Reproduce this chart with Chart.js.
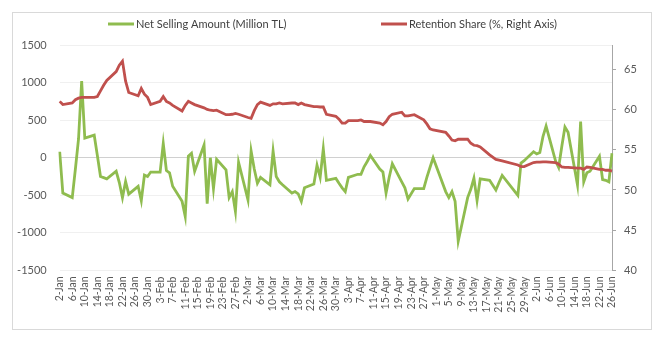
<!DOCTYPE html>
<html><head><meta charset="utf-8">
<script src="https://cdn.jsdelivr.net/npm/chart.js@4/dist/chart.umd.min.js"></script>
<style>html,body{margin:0;padding:0;background:#fff}#wrap{position:relative;width:665px;height:343px}</style>
</head><body><div id="wrap"><canvas id="c" width="665" height="343"></canvas></div>
<script>
const MONTHS = ['Jan','Feb','Mar','Apr','May','Jun'];

// Trading days shown in the chart (2020)
const tradeDates = ['2-Jan','3-Jan','6-Jan','7-Jan','8-Jan','9-Jan','10-Jan','13-Jan','14-Jan','15-Jan','16-Jan','17-Jan','20-Jan','21-Jan','22-Jan','23-Jan','24-Jan','27-Jan','28-Jan','29-Jan','30-Jan','31-Jan',
'3-Feb','4-Feb','5-Feb','6-Feb','7-Feb','10-Feb','11-Feb','12-Feb','13-Feb','14-Feb','17-Feb','18-Feb','19-Feb','20-Feb','21-Feb','24-Feb','25-Feb','26-Feb','27-Feb','28-Feb',
'2-Mar','3-Mar','4-Mar','5-Mar','6-Mar','9-Mar','10-Mar','11-Mar','12-Mar','13-Mar','16-Mar','17-Mar','18-Mar','19-Mar','20-Mar','23-Mar','24-Mar','25-Mar','26-Mar','27-Mar','30-Mar','31-Mar',
'1-Apr','2-Apr','3-Apr','6-Apr','7-Apr','8-Apr','9-Apr','10-Apr','13-Apr','14-Apr','15-Apr','16-Apr','17-Apr','20-Apr','21-Apr','22-Apr','24-Apr','27-Apr','28-Apr','29-Apr','30-Apr',
'4-May','5-May','6-May','7-May','8-May','11-May','12-May','13-May','14-May','15-May','18-May','20-May','21-May','22-May','27-May','28-May','29-May',
'1-Jun','2-Jun','3-Jun','4-Jun','5-Jun','8-Jun','9-Jun','10-Jun','11-Jun','12-Jun','15-Jun','16-Jun','17-Jun','18-Jun','19-Jun','22-Jun','23-Jun','24-Jun','25-Jun','26-Jun'];

// Net Selling Amount (Million TL), left axis
const netSelling = [80,-470,-530,-150,250,1020,260,300,30,-250,-265,-280,-180,-330,-530,-316,-484,-380,-570,-230,-250,-190,
-190,190,-170,-200,-380,-580,-780,20,60,-180,170,-610,0,-410,-20,-160,-530,-450,-715,-60,
-560,90,-150,-340,-260,-360,90,-250,-320,-360,-470,-450,-480,-580,-400,-350,-100,-260,120,-300,-275,-340,
-400,-450,-260,-220,-220,-120,-50,30,-150,-190,-470,-260,-80,-320,-400,-550,-410,-410,-260,-130,0,
-450,-530,-450,-580,-1110,-530,-420,-270,-570,-280,-300,-430,-330,-235,-500,-70,-40,
80,50,70,280,420,-40,-130,150,410,340,-360,480,-320,-200,-180,20,-290,-300,-320,60];

// Retention Share (%), right axis
const retentionShare = [61.0,60.6,60.8,61.2,61.4,61.5,61.5,61.5,61.6,62.3,63.0,63.6,64.7,65.5,66.0,63.5,62.1,61.7,62.6,61.9,61.5,60.6,
61.0,61.6,61.0,60.8,60.5,59.8,60.5,61.0,60.8,60.6,60.2,60.0,59.9,59.85,59.9,59.35,59.35,59.4,59.5,59.4,
59.0,58.9,59.85,60.6,60.9,60.5,60.7,60.7,60.8,60.7,60.8,60.8,60.6,60.8,60.6,60.35,60.35,60.3,60.3,59.4,59.15,58.8,
58.3,58.3,58.6,58.6,58.7,58.5,58.5,58.5,58.3,58.1,58.5,59.1,59.4,59.65,59.2,59.2,59.35,58.7,58.2,57.6,57.45,
57.15,56.7,56.2,56.1,56.3,56.3,55.8,55.55,55.5,55.35,54.35,53.8,53.7,53.6,53.1,52.9,52.9,
53.4,53.45,53.45,53.5,53.5,53.4,53.2,52.85,52.8,52.8,52.7,52.7,52.55,52.85,52.8,52.55,52.55,52.45,52.45,52.35];

const seriesNames = ['Net Selling Amount (Million TL)', 'Retention Share (%, Right Axis)'];
const leftTicks = {min: -1500, max: 1500, step: 500};
const rightTicks = {min: 40, max: 68, step: 5};

// Calendar categories (every day), labelled every 4th day
const categories = [];
for (let t = Date.UTC(2020,0,2); t <= Date.UTC(2020,5,26); t += 86400000) {
  const d = new Date(t);
  categories.push(d.getUTCDate() + '-' + MONTHS[d.getUTCMonth()]);
}

const GREEN = '#8fbc4f', RED = '#c0504d', TXT = '#595959';

const deco = {
  id: 'deco',
  beforeDraw(chart) {
    const ctx = chart.ctx;
    ctx.save();
    ctx.fillStyle = '#fff';
    ctx.fillRect(0,0,chart.width,chart.height);
    ctx.strokeStyle = '#d9d9d9';
    ctx.lineWidth = 1;
    ctx.strokeRect(12.5,12.5,639,317);
    ctx.restore();
  },
  afterDraw(chart) {
    const ctx = chart.ctx;
    ctx.save();
    ctx.lineWidth = 3;
    ctx.lineCap = 'butt';
    ctx.font = '11px Lato';
    ctx.textBaseline = 'middle';
    ctx.fillStyle = '#404040';
    ctx.strokeStyle = GREEN;
    ctx.beginPath(); ctx.moveTo(108,24); ctx.lineTo(134,24); ctx.stroke();
    ctx.fillText(seriesNames[0], 136, 24);
    ctx.strokeStyle = RED;
    ctx.beginPath(); ctx.moveTo(381,24); ctx.lineTo(407,24); ctx.stroke();
    ctx.fillText(seriesNames[1], 409, 24);
    ctx.restore();
  }
};

new Chart(document.getElementById('c'), {
  type: 'line',
  data: {
    labels: categories,
    datasets: [
      {label: seriesNames[1], data: tradeDates.map((x,i)=>({x, y: retentionShare[i]})), yAxisID: 'y1',
       borderColor: RED, backgroundColor: RED, borderWidth: 2.8, pointRadius: 0, tension: 0, order: 0},
      {label: seriesNames[0], data: tradeDates.map((x,i)=>({x, y: netSelling[i]})), yAxisID: 'y',
       borderColor: GREEN, backgroundColor: GREEN, borderWidth: 2.8, pointRadius: 0, tension: 0, order: 1}
    ]
  },
  options: {
    responsive: false, animation: false, devicePixelRatio: 1,
    layout: {padding: {top: 45, left: 0, right: 0, bottom: 0}},
    plugins: {legend: {display: false}, tooltip: {enabled: false}},
    scales: {
      x: {
        type: 'category', offset: false,
        grid: {display: false, drawTicks: false}, border: {display: false},
        ticks: {autoSkip: false, minRotation: 90, maxRotation: 90, padding: 6, color: TXT,
          font: {family: 'Lato', size: 10.5},
          callback(v, i) { return i % 4 === 0 ? this.getLabelForValue(v) : ''; }},
        afterFit(s) { s.height = 72.5; }
      },
      y: {
        position: 'left', min: leftTicks.min, max: leftTicks.max,
        ticks: {stepSize: leftTicks.step, padding: 13, color: TXT, font: {family: 'Lato', size: 11},
          callback: v => String(v)},
        grid: {color: c => c.tick && c.tick.value === 0 ? '#d0d0d0' : '#f0f0f0', drawTicks: false},
        border: {display: false},
        afterFit(s) { s.width = 59.7; }
      },
      y1: {
        position: 'right', min: rightTicks.min, max: rightTicks.max,
        ticks: {stepSize: rightTicks.step, padding: 8, color: TXT, font: {family: 'Lato', size: 11},
          callback: v => String(v)},
        afterBuildTicks(s) { s.ticks = s.ticks.filter(t => t.value % rightTicks.step === 0); },
        grid: {drawOnChartArea: false, drawTicks: true, tickLength: 4, color: '#a6a6a6'},
        border: {display: true, color: '#a6a6a6'},
        afterFit(s) { s.width = 53; }
      }
    }
  },
  plugins: [deco]
});
</script>
</body></html>
